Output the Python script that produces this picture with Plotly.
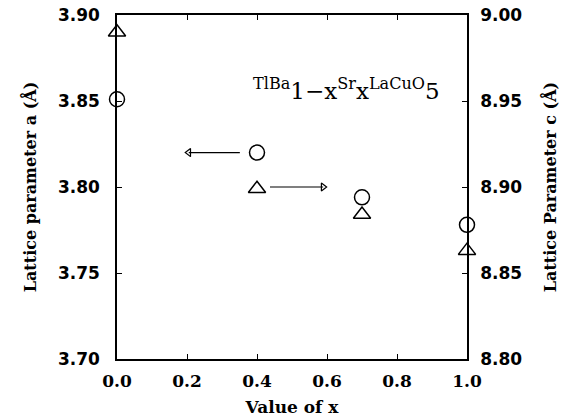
import plotly.graph_objects as go

# Data
x_vals = [0.0, 0.4, 0.7, 1.0]
a_vals = [3.851, 3.820, 3.794, 3.778]      # left axis, circles
c_vals = [8.990, 8.899, 8.884, 8.863]      # right axis, triangles

x_ticks = [0.0, 0.2, 0.4, 0.6, 0.8, 1.0]
x_ticklabels = ["0.0", "0.2", "0.4", "0.6", "0.8", "1.0"]
a_ticks = [3.70, 3.75, 3.80, 3.85, 3.90]
a_ticklabels = ["3.70", "3.75", "3.80", "3.85", "3.90"]
c_ticks = [8.80, 8.85, 8.90, 8.95, 9.00]
c_ticklabels = ["8.80", "8.85", "8.90", "8.95", "9.00"]

# arrows (x from tail to tip, y on left axis)
arrow_left_x = [0.351, 0.205]
arrow_left_y = [3.820, 3.820]
arrow_right_x = [0.437, 0.589]
arrow_right_y = [3.800, 3.800]

# formula label (element symbols raised, stoichiometry at baseline as in the original)
formula_text = "<sup>TlBa</sup>1−x<sup>Sr</sup>x<sup>LaCuO</sup>5"
formula_x, formula_y = 0.657, 3.857

serif = "DejaVu Serif"
sans = "DejaVu Sans"

fig = go.Figure()

fig.add_trace(go.Scatter(
    x=x_vals, y=a_vals, mode="markers",
    marker=dict(symbol="circle-open", size=15, color="black", line=dict(width=1.5)),
    cliponaxis=False, showlegend=False))

fig.add_trace(go.Scatter(
    x=x_vals, y=c_vals, mode="markers", yaxis="y2",
    marker=dict(symbol="triangle-up-open", size=15, color="black", line=dict(width=1.5)),
    cliponaxis=False, showlegend=False))

# arrows
fig.add_trace(go.Scatter(
    x=arrow_left_x, y=arrow_left_y, mode="lines", line=dict(color="black", width=1.2),
    showlegend=False, hoverinfo="skip"))
fig.add_trace(go.Scatter(
    x=[arrow_left_x[1]], y=[arrow_left_y[1]], mode="markers",
    marker=dict(symbol="triangle-left-open", size=7, color="black", line=dict(width=1.2)),
    showlegend=False, hoverinfo="skip"))
fig.add_trace(go.Scatter(
    x=arrow_right_x, y=arrow_right_y, mode="lines", line=dict(color="black", width=1.2),
    showlegend=False, hoverinfo="skip"))
fig.add_trace(go.Scatter(
    x=[arrow_right_x[1]], y=[arrow_right_y[1]], mode="markers",
    marker=dict(symbol="triangle-right-open", size=7, color="black", line=dict(width=1.2)),
    showlegend=False, hoverinfo="skip"))

fig.add_annotation(x=formula_x, y=formula_y, xref="x", yref="y", text=formula_text,
                   showarrow=False, xanchor="center", yanchor="middle",
                   font=dict(family=serif, size=23, color="black"))

tick_font = dict(family=sans, size=17, color="black", weight="bold")
x_font = dict(family=serif, size=17, color="black", weight="bold")
title_font = dict(family=serif, size=16, color="black", weight="bold")

fig.update_layout(
    width=568, height=420,
    margin=dict(l=117, r=101, t=15, b=61),
    paper_bgcolor="white", plot_bgcolor="white",
    xaxis=dict(range=[0, 1], tickvals=x_ticks, ticktext=x_ticklabels,
               ticks="inside", ticklen=5, tickwidth=1.2, tickcolor="black",
               showline=True, linecolor="black", linewidth=1.5, mirror="ticks",
               showgrid=False, zeroline=False, ticklabelstandoff=6, automargin=False,
               tickfont=x_font,
               title=dict(text="Value of x", font=dict(family=serif, size=17, color="black", weight="bold"),
                          standoff=11)),
    yaxis=dict(range=[3.70, 3.90], tickvals=a_ticks, ticktext=a_ticklabels,
               ticks="inside", ticklen=5, tickwidth=1.2, tickcolor="black",
               showline=True, linecolor="black", linewidth=1.5,
               showgrid=False, zeroline=False, ticklabelstandoff=12, automargin=False,
               tickfont=tick_font,
               title=dict(text="Lattice parameter a (Å)", font=title_font, standoff=17)),
    yaxis2=dict(range=[8.80, 9.00], tickvals=c_ticks, ticktext=c_ticklabels,
                overlaying="y", side="right",
                ticks="inside", ticklen=5, tickwidth=1.2, tickcolor="black",
                showline=True, linecolor="black", linewidth=1.5,
                showgrid=False, zeroline=False, ticklabelstandoff=8, automargin=False,
                tickfont=tick_font,
                title=dict(text="Lattice Parameter c (Å)", font=title_font, standoff=24)),
)

fig.write_html("out.html")
